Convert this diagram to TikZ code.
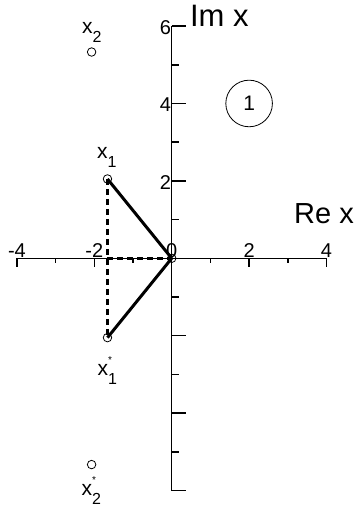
\documentclass[tikz,border=0pt]{standalone}
\usepackage{fontspec}
\setmainfont{Liberation Sans}
\tikzset{
  pt/.style={circle,draw,inner sep=0pt,minimum size=8.5pt,line width=0.8pt},
  axisline/.style={line width=1pt},
  tickline/.style={line width=1.5pt},
  ticklab/.style={inner sep=0pt},
  ptlab/.style={anchor=base west,inner sep=0pt,font=\fontsize{21}{21}\selectfont},
  biglab/.style={anchor=base west,inner sep=0pt},
  solidseg/.style={line width=3pt},
  dashseg/.style={line width=3pt,dash pattern=on 6pt off 4pt}
}
\newcommand\tk[1]{\fontsize{20}{20}\selectfont #1}
\newcommand\subn[1]{\raisebox{-9pt}{\fontsize{16}{16}\selectfont #1}}
\newcommand\starsub[1]{\rlap{\raisebox{12pt}{\fontsize{10}{10}\selectfont *}}\raisebox{-9pt}{\fontsize{16}{16}\selectfont #1}}
\begin{document}
\begin{tikzpicture}[x=38.7pt,y=38.7pt]
\useasboundingbox (-4.437,-6.478) rectangle (4.891,6.674);
% axes
\draw[axisline] (-4,0) -- (4,0);
\draw[axisline] (0,-6) -- (0,6);
\foreach \y in {-6,-4,-2,2,4,6} \draw[tickline] (0,\y) -- ++(14pt,0);
\foreach \y in {-5,-3,-1,1,3,5} \draw[tickline] (0,\y) -- ++(7pt,0);
\foreach \x in {-4,-2,2,4} \draw[tickline] (\x,0) -- ++(0,-9pt);
\foreach \x in {-3,-1,1,3} \draw[tickline] (\x,0) -- ++(0,-5pt);
% tick labels
\node[ticklab,anchor=east] (ly6) at ([xshift=-0.5pt,yshift=-1.5pt]0,6) {\tk{6}};
\node[ticklab,anchor=east] (ly4) at ([xshift=-0.5pt,yshift=-1.5pt]0,4) {\tk{4}};
\node[ticklab,anchor=east] (ly2) at ([xshift=-0.5pt,yshift=-1.5pt]0,2) {\tk{2}};
\node[ticklab,anchor=base] (lxa) at ([yshift=0.5pt]-4,0) {\tk{-4}};
\node[ticklab,anchor=base] (lxb) at ([yshift=0.5pt]-2,0) {\tk{-2}};
\node[ticklab,anchor=base] (lxc) at ([yshift=0.5pt]0,0) {\tk{0}};
\node[ticklab,anchor=base] (lxd) at ([yshift=0.5pt]2,0) {\tk{2}};
\node[ticklab,anchor=base] (lxe) at ([yshift=0.5pt]4,0) {\tk{4}};
% axis labels
\node[biglab,font=\fontsize{31}{31}\selectfont] (im) at (0.47,5.98) {Im x};
\node[biglab,font=\fontsize{29}{29}\selectfont] (re) at (3.16,0.91) {Re x};
% region label
\node[circle,draw,line width=0.8pt,inner sep=0pt,minimum size=46.6pt,font=\fontsize{21}{21}\selectfont] (c1) at (2,4) {1};
% points
\node[pt] (x1) at (-1.66,2.05) {};
\node[pt] (x1c) at (-1.66,-2.05) {};
\node[pt] (x2) at (-2.07,5.33) {};
\node[pt] (x2c) at (-2.07,-5.33) {};
\node[pt] (o) at (0,0) {};
\coordinate (f) at (-1.66,0);
% segments
\draw[dashseg] (x1.center) -- (x1c.center);
\draw[dashseg] (f) -- (o.center);
\draw[solidseg] (x1.center) -- (o.center);
\draw[solidseg] (x1c.center) -- (o.center);
% point labels
\node[ptlab] (lx1) at (-1.93,2.57) {x\subn{1}};
\node[ptlab] (lx2) at (-2.32,5.82) {x\subn{2}};
\node[ptlab] (lx1c) at (-1.92,-3.02) {x\starsub{1}};
\node[ptlab] (lx2c) at (-2.33,-6.13) {x\starsub{2}};
\end{tikzpicture}
\end{document}
